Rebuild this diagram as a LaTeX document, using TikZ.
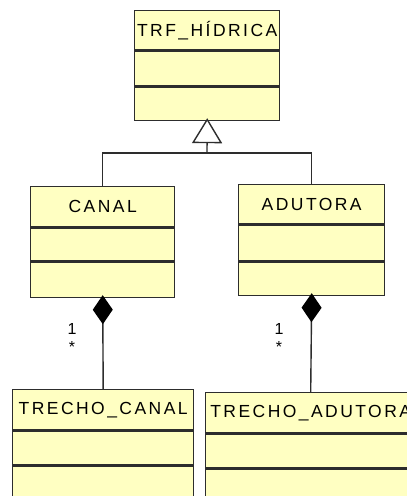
\documentclass[tikz,border=0pt]{standalone}
\usepackage{fontspec}
\usepackage{xcolor}
\usetikzlibrary{arrows.meta}
\newfontfamily\umlfont[LetterSpace=14]{Liberation Sans}
\definecolor{umlfill}{RGB}{255,255,194}
\definecolor{umlline}{RGB}{45,45,45}
\tikzset{
  classbox/.style={draw=umlline, fill=umlfill, line width=1.4pt, inner sep=0pt,
    font=\umlfont\fontsize{17.5}{20}\selectfont},
  mult/.style={font=\umlfont\fontsize{16}{18}\selectfont, inner sep=0pt},
}
\begin{document}
\begin{tikzpicture}[x=1pt, y=-1pt, line width=1.4pt, draw=umlline]
            \useasboundingbox (0,0) rectangle (407,496);
            \clip (0,0) rectangle (407,496);
            % superclass
            \node[classbox, anchor=north west, minimum width=145pt, minimum height=39pt] (trf) at (134,10) {TRF\_HÍDRICA};
            \node[classbox, anchor=north, minimum width=145pt, minimum height=35pt] (trf-a) at (trf.south) {};
            \node[classbox, anchor=north, minimum width=145pt, minimum height=33pt] (trf-o) at (trf-a.south) {};
            % subclasses
            \node[classbox, anchor=north west, minimum width=144pt, minimum height=40pt] (canal) at (30,186) {CANAL};
            \node[classbox, anchor=north, minimum width=144pt, minimum height=33pt] (canal-a) at (canal.south) {};
            \node[classbox, anchor=north, minimum width=144pt, minimum height=35pt] (canal-o) at (canal-a.south) {};
            \node[classbox, anchor=north west, minimum width=146pt, minimum height=39pt] (adutora) at (238,184) {ADUTORA};
            \node[classbox, anchor=north, minimum width=146pt, minimum height=36pt] (adutora-a) at (adutora.south) {};
            \node[classbox, anchor=north, minimum width=146pt, minimum height=33pt] (adutora-o) at (adutora-a.south) {};
            % parts
            \node[classbox, anchor=north west, minimum width=181pt, minimum height=40pt] (tcanal) at (12,389) {TRECHO\_CANAL};
            \node[classbox, anchor=north, minimum width=181pt, minimum height=34pt] (tcanal-a) at (tcanal.south) {};
            \node[classbox, anchor=north, minimum width=181pt, minimum height=40pt] (tcanal-o) at (tcanal-a.south) {};
            \node[classbox, anchor=north west, minimum width=210pt, minimum height=40pt] (tadutora) at (205,392) {TRECHO\_ADUTORA};
            \node[classbox, anchor=north, minimum width=210pt, minimum height=34pt] (tadutora-a) at (tadutora.south) {};
            \node[classbox, anchor=north, minimum width=210pt, minimum height=40pt] (tadutora-o) at (tadutora-a.south) {};
            % generalization
            \coordinate (bus) at (207,153);
            \draw (canal.north) |- (bus) -| (adutora.north);
            \draw[-{Triangle[open, length=25pt, width=30pt, fill=white]}, shorten >=-3pt] (bus) -- (trf-o.south);
            % composition
            \draw[-{Diamond[length=29pt, width=20pt, color=black]}, shorten >=-3pt] (tcanal.north) -- (canal-o.south);
            \draw[-{Diamond[length=29pt, width=20pt, color=black]}, shorten >=-3pt] (tadutora.north) -- (adutora-o.south);
            \node[mult] (m1) at (72,329) {1};
            \node[mult] (m2) at (72,347) {*};
            \node[mult] (m3) at (279,329) {1};
            \node[mult] (m4) at (279,347) {*};
        \end{tikzpicture}
\end{document}
